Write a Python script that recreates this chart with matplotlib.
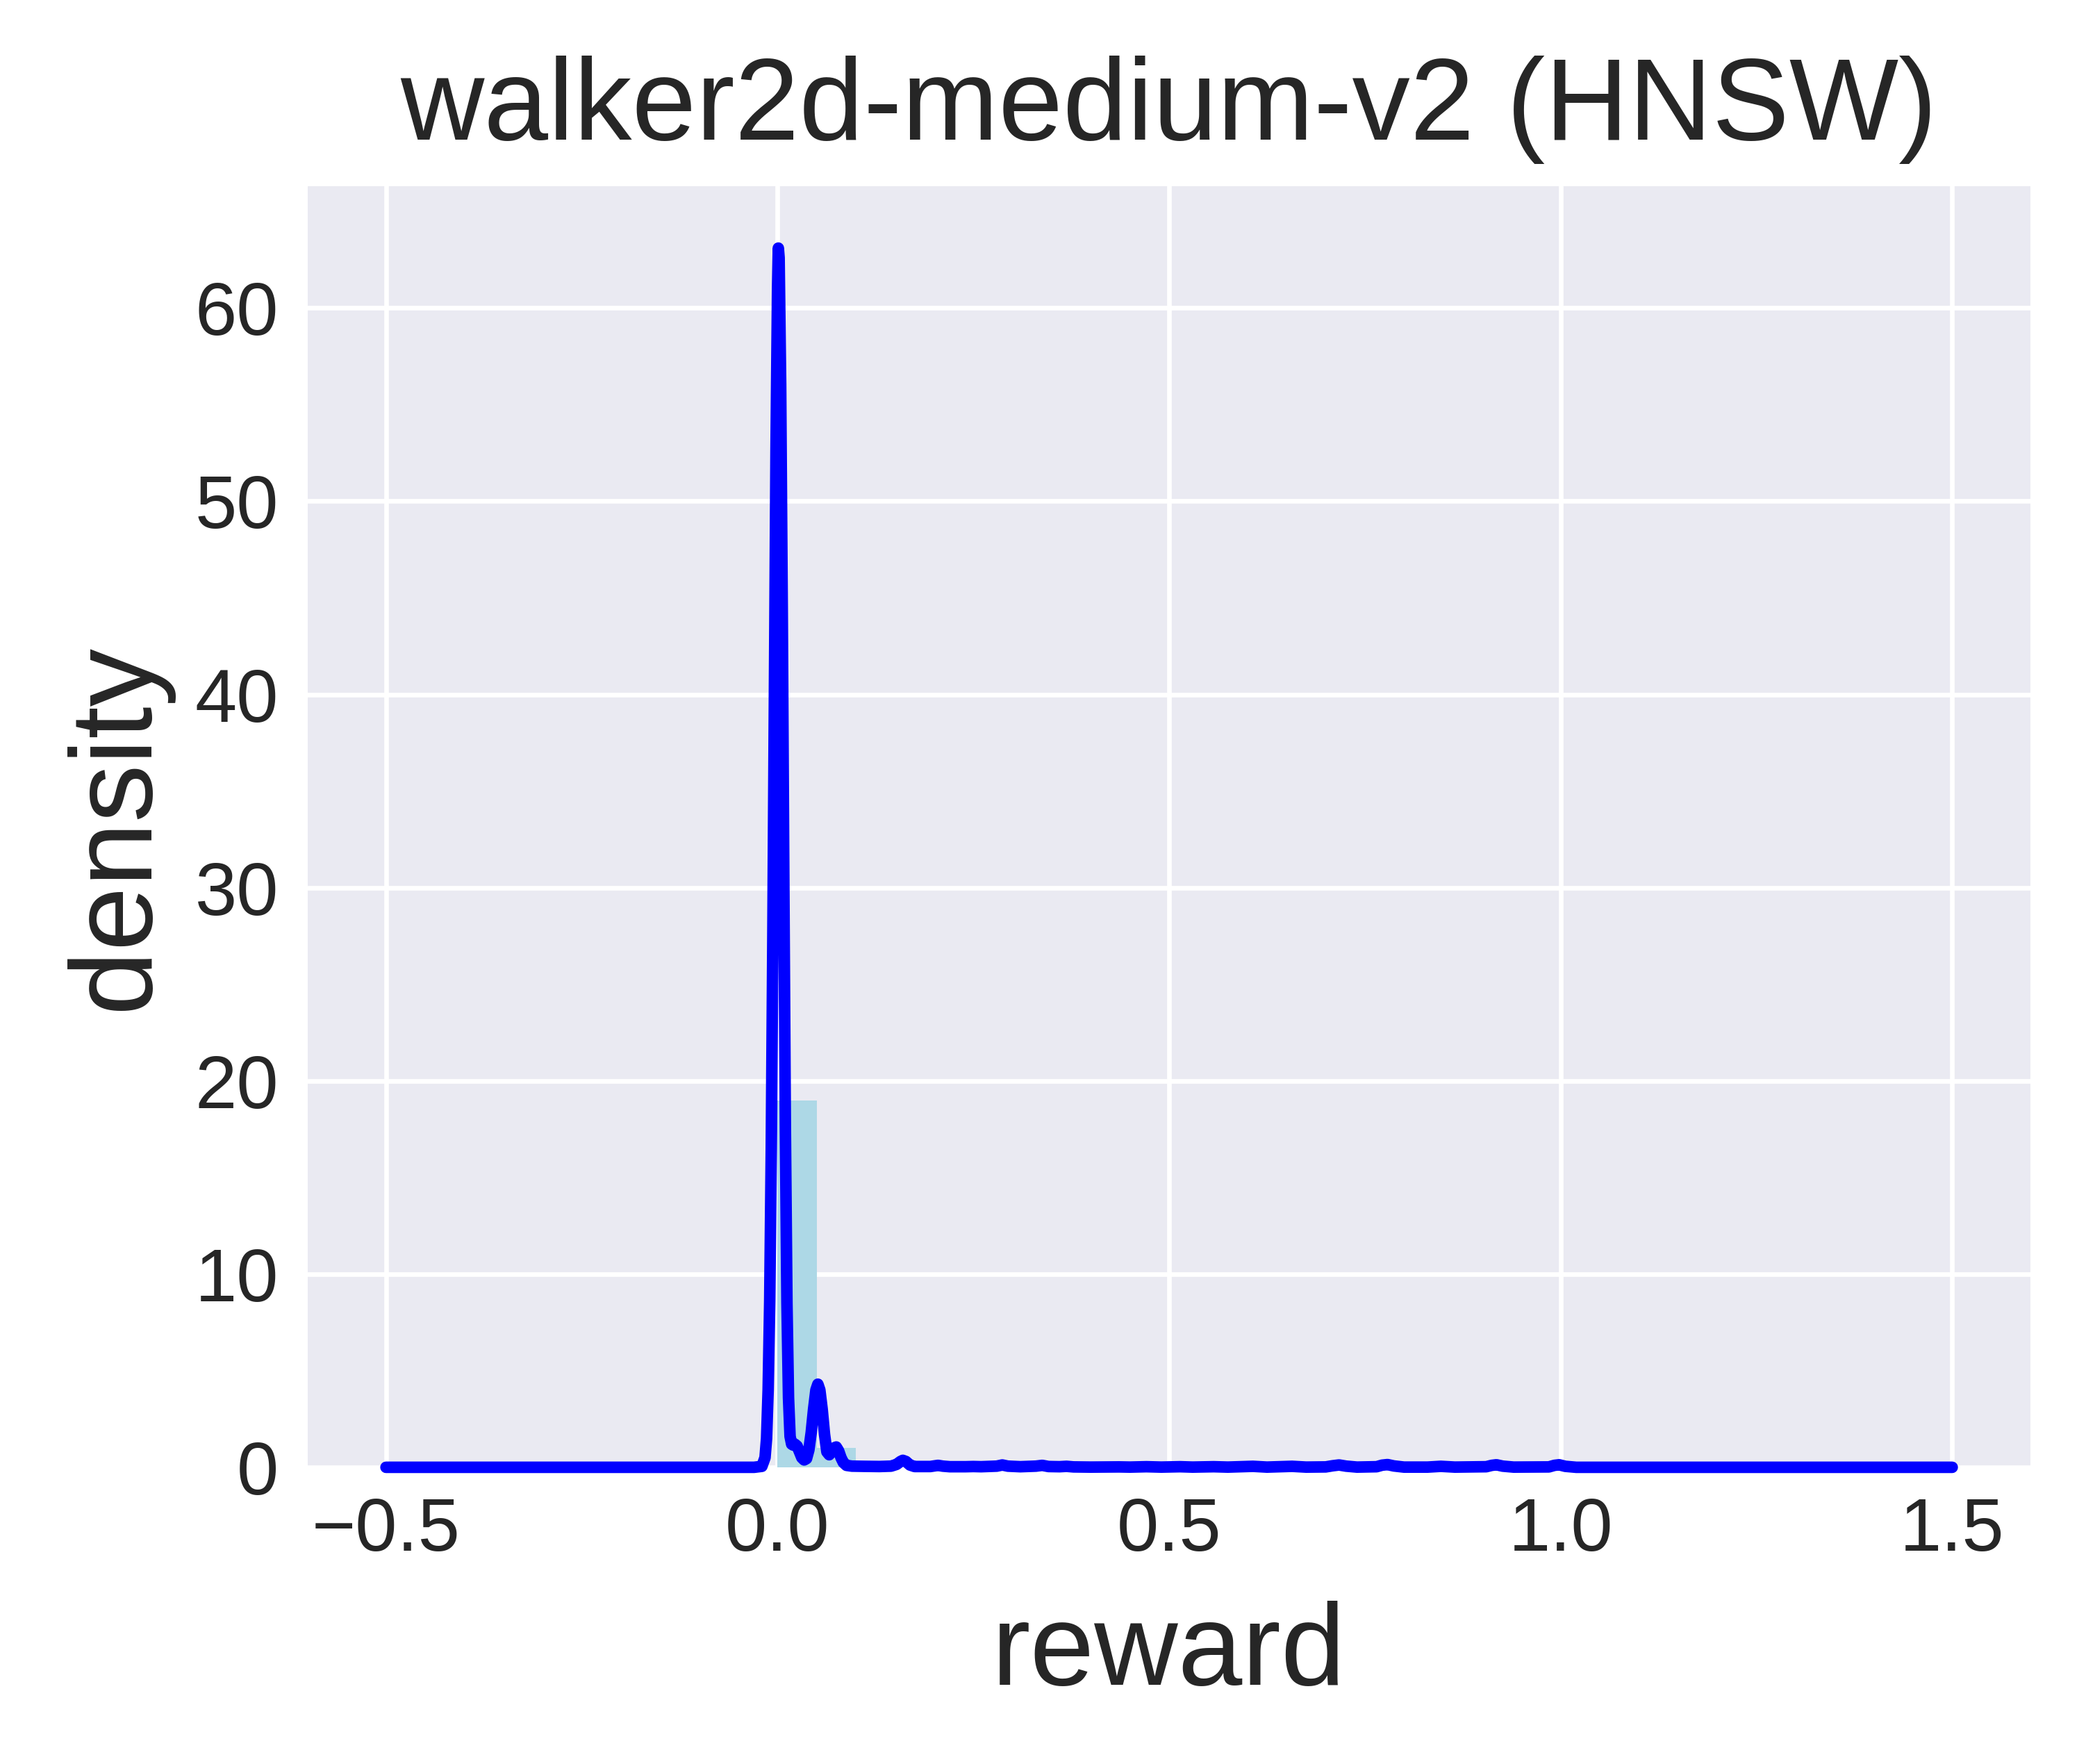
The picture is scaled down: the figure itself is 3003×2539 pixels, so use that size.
import matplotlib
matplotlib.use("Agg")
import matplotlib.pyplot as plt

# histogram bins (left edge, width) and density heights
bin_left = [0.0, 0.05]
bin_width = [0.05, 0.05]
bin_density = [19.0, 1.0]

# kde curve
kde_x = [-0.5, -0.03, -0.02, -0.016, -0.014, -0.012, -0.010, -0.008, -0.006, -0.004,
         -0.002, 0.000, 0.001, 0.002, 0.004, 0.006, 0.008, 0.010, 0.012, 0.014,
         0.016, 0.018, 0.020, 0.022, 0.025, 0.028, 0.031, 0.034, 0.037, 0.040,
         0.043, 0.046, 0.049, 0.0515, 0.054, 0.057, 0.060, 0.063, 0.066, 0.069,
         0.072, 0.075, 0.078, 0.081, 0.084, 0.088, 0.095, 0.11, 0.13, 0.145,
         0.152, 0.157, 0.160, 0.164, 0.169, 0.175, 0.195, 0.200, 0.205, 0.211,
         0.22, 0.24, 0.25, 0.26, 0.28, 0.287, 0.294, 0.31, 0.33, 0.338,
         0.346, 0.36, 0.369, 0.378, 0.40, 0.436, 0.45, 0.471, 0.49, 0.514,
         0.53, 0.557, 0.575, 0.607, 0.625, 0.657, 0.675, 0.70, 0.709, 0.717,
         0.726, 0.74, 0.765, 0.772, 0.779, 0.787, 0.80, 0.83, 0.847, 0.865,
         0.905, 0.912, 0.918, 0.926, 0.94, 0.985, 0.992, 0.998, 1.006, 1.02,
         1.5]
kde_y = [0.0, 0.0, 0.05, 0.5, 1.5, 4.0, 8.6, 16.5, 27.5, 40.0,
         52.5, 61.0, 63.1, 62.6, 56.0, 44.5, 30.5, 17.5, 8.5, 3.6,
         1.6, 1.2, 1.15, 1.2, 1.1, 0.8, 0.5, 0.38, 0.45, 0.9,
         1.8, 3.0, 4.0, 4.3, 4.0, 3.0, 1.7, 0.8, 0.65, 0.8,
         1.0, 1.05, 0.85, 0.5, 0.25, 0.1, 0.06, 0.05, 0.04, 0.06,
         0.15, 0.3, 0.36, 0.3, 0.12, 0.04, 0.04, 0.07, 0.1, 0.06,
         0.03, 0.03, 0.04, 0.03, 0.06, 0.12, 0.06, 0.03, 0.06, 0.1,
         0.04, 0.03, 0.05, 0.02, 0.01, 0.02, 0.01, 0.03, 0.01, 0.03,
         0.01, 0.03, 0.01, 0.05, 0.01, 0.05, 0.01, 0.02, 0.08, 0.12,
         0.06, 0.01, 0.03, 0.11, 0.14, 0.07, 0.01, 0.01, 0.05, 0.01,
         0.03, 0.1, 0.13, 0.06, 0.01, 0.02, 0.1, 0.13, 0.05, 0.0,
         0.0]

plt.style.use('seaborn-v0_8-darkgrid')
plt.rcParams['font.family'] = ['Liberation Sans', 'DejaVu Sans']

fig = plt.figure(figsize=(3003 / 600, 2539 / 600), dpi=600)
ax = fig.add_axes([0.1475, 0.1682, 0.8259, 0.7262])

ax.bar(bin_left, bin_density, width=bin_width, align='edge', color='lightblue', linewidth=0)
ax.plot(kde_x, kde_y, color='blue', linewidth=2, clip_on=False)

ax.set_xlim(-0.6, 1.6)
ax.set_ylim(0, 66.3)
ax.set_xticks([-0.5, 0.0, 0.5, 1.0, 1.5])
ax.tick_params(labelsize=13, pad=5)

ax.set_title('walker2d-medium-v2 (HNSW)', fontsize=20, pad=8)
ax.set_xlabel('reward', fontsize=20, labelpad=6)
ax.set_ylabel('density', fontsize=20)

fig.savefig('out.png', dpi=600)
plt.close(fig)
